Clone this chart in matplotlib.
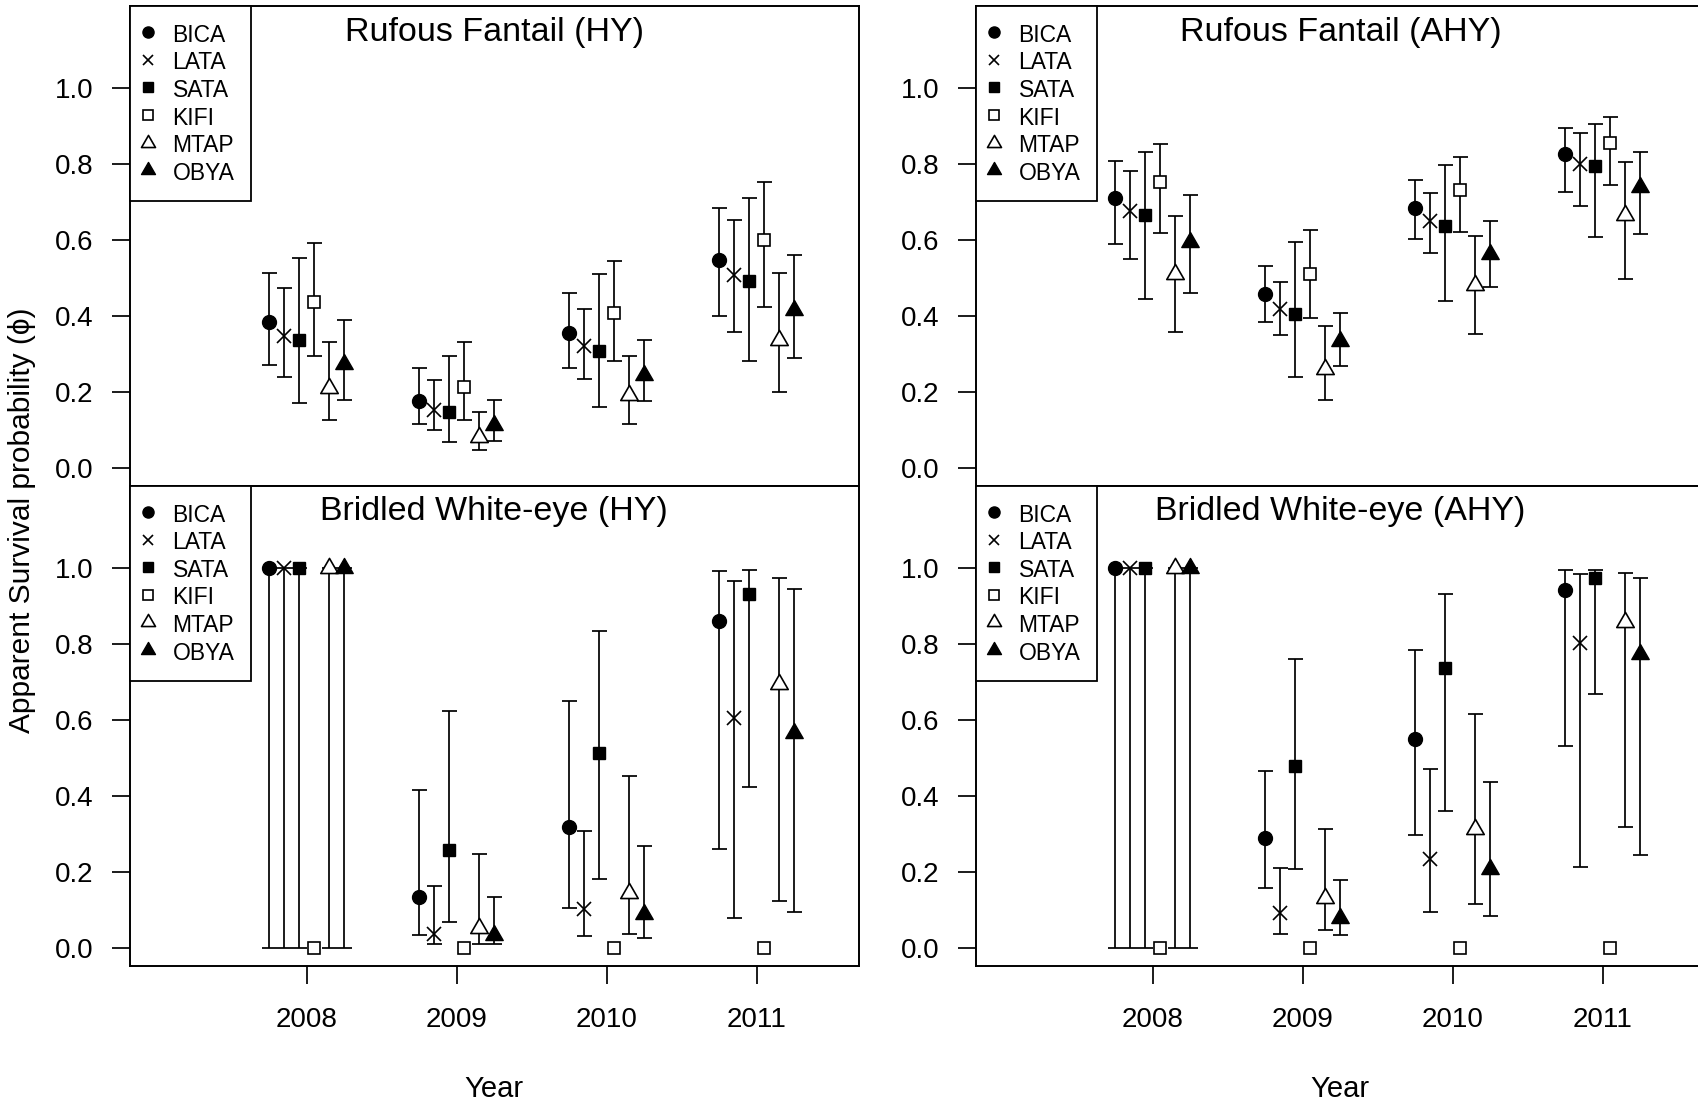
import matplotlib
matplotlib.use('Agg')
import matplotlib.pyplot as plt
from matplotlib.path import Path
import numpy as np

plt.rcParams['font.family'] = ['Liberation Sans', 'DejaVu Sans']

# ---------------- data ----------------
years = [2008, 2009, 2010, 2011]
species = ['BICA', 'LATA', 'SATA', 'KIFI', 'MTAP', 'OBYA']
offsets = [-0.25, -0.15, -0.05, 0.05, 0.15, 0.25]
titles = ['Rufous Fantail (HY)', 'Rufous Fantail (AHY)',
          'Bridled White-eye (HY)', 'Bridled White-eye (AHY)']
y_ticks = [0.0, 0.2, 0.4, 0.6, 0.8, 1.0]
y_tick_labels = ['0.0', '0.2', '0.4', '0.6', '0.8', '1.0']

# rows = species (BICA, LATA, SATA, KIFI, MTAP, OBYA), columns = years
rufa_hy_est = [[0.384, 0.175, 0.355, 0.548],
               [0.348, 0.152, 0.320, 0.507],
               [0.336, 0.147, 0.307, 0.493],
               [0.438, 0.212, 0.408, 0.601],
               [0.211, 0.082, 0.191, 0.336],
               [0.274, 0.112, 0.246, 0.417]]
rufa_hy_lo = [[0.270, 0.116, 0.264, 0.401],
              [0.239, 0.099, 0.234, 0.358],
              [0.170, 0.068, 0.160, 0.281],
              [0.294, 0.125, 0.281, 0.424],
              [0.125, 0.046, 0.117, 0.200],
              [0.180, 0.070, 0.175, 0.289]]
rufa_hy_hi = [[0.513, 0.262, 0.460, 0.685],
              [0.475, 0.232, 0.419, 0.654],
              [0.554, 0.296, 0.511, 0.710],
              [0.592, 0.332, 0.546, 0.754],
              [0.332, 0.148, 0.294, 0.513],
              [0.389, 0.179, 0.338, 0.561]]

rufa_ahy_est = [[0.711, 0.458, 0.684, 0.826],
                [0.677, 0.418, 0.649, 0.800],
                [0.665, 0.405, 0.636, 0.794],
                [0.754, 0.511, 0.731, 0.855],
                [0.510, 0.261, 0.481, 0.665],
                [0.594, 0.333, 0.563, 0.739]]
rufa_ahy_lo = [[0.589, 0.385, 0.603, 0.726],
               [0.551, 0.351, 0.566, 0.689],
               [0.446, 0.239, 0.439, 0.607],
               [0.618, 0.396, 0.621, 0.744],
               [0.358, 0.180, 0.354, 0.498],
               [0.460, 0.269, 0.476, 0.617]]
rufa_ahy_hi = [[0.809, 0.532, 0.759, 0.896],
               [0.783, 0.489, 0.725, 0.881],
               [0.832, 0.596, 0.798, 0.905],
               [0.853, 0.627, 0.818, 0.924],
               [0.664, 0.373, 0.611, 0.805],
               [0.718, 0.407, 0.651, 0.833]]

brwe_hy_est = [[1.0, 0.134, 0.317, 0.861],
               [1.0, 0.037, 0.101, 0.604],
               [1.0, 0.257, 0.512, 0.932],
               [0.0, 0.0, 0.0, 0.0],
               [1.0, 0.053, 0.145, 0.695],
               [1.0, 0.033, 0.090, 0.565]]
brwe_hy_lo = [[0.0, 0.033, 0.105, 0.261],
              [0.0, 0.009, 0.030, 0.079],
              [0.0, 0.068, 0.181, 0.424],
              [0.0, 0.0, 0.0, 0.0],
              [0.0, 0.011, 0.035, 0.123],
              [0.0, 0.009, 0.026, 0.093]]
brwe_hy_hi = [[1.0, 0.415, 0.650, 0.993],
              [1.0, 0.162, 0.308, 0.967],
              [1.0, 0.623, 0.833, 0.996],
              [0.0, 0.0, 0.0, 0.0],
              [1.0, 0.248, 0.453, 0.974],
              [1.0, 0.134, 0.267, 0.945]]

brwe_ahy_est = [[1.0, 0.288, 0.551, 0.943],
                [1.0, 0.091, 0.233, 0.802],
                [1.0, 0.478, 0.736, 0.973],
                [0.0, 0.0, 0.0, 0.0],
                [1.0, 0.132, 0.312, 0.858],
                [1.0, 0.077, 0.208, 0.774]]
brwe_ahy_lo = [[0.0, 0.158, 0.296, 0.532],
               [0.0, 0.037, 0.094, 0.213],
               [0.0, 0.208, 0.360, 0.668],
               [0.0, 0.0, 0.0, 0.0],
               [0.0, 0.048, 0.116, 0.318],
               [0.0, 0.034, 0.083, 0.245]]
brwe_ahy_hi = [[1.0, 0.465, 0.783, 0.996],
               [1.0, 0.210, 0.470, 0.983],
               [1.0, 0.761, 0.932, 0.996],
               [0.0, 0.0, 0.0, 0.0],
               [1.0, 0.314, 0.616, 0.988],
               [1.0, 0.178, 0.437, 0.975]]

panels = [(rufa_hy_est, rufa_hy_lo, rufa_hy_hi),
          (rufa_ahy_est, rufa_ahy_lo, rufa_ahy_hi),
          (brwe_hy_est, brwe_hy_lo, brwe_hy_hi),
          (brwe_ahy_est, brwe_ahy_lo, brwe_ahy_hi)]

# ---------------- styles ----------------
tri = Path([(0, 1), (-0.866, -0.5), (0.866, -0.5), (0, 1)], closed=True)
marker_styles = [
    dict(marker='o', ms=10, mfc='black', mec='black', mew=1.0),
    dict(marker='x', ms=9.5, mfc='black', mec='black', mew=1.2),
    dict(marker='s', ms=8.8, mfc='black', mec='black', mew=1.0),
    dict(marker='s', ms=8.8, mfc='white', mec='black', mew=1.2),
    dict(marker=tri, ms=14.5, mfc='white', mec='black', mew=1.2),
    dict(marker=tri, ms=14.5, mfc='black', mec='black', mew=1.0),
]

W, H = 1699, 1102
fig = plt.figure(figsize=(W / 100, H / 100), dpi=100)

ax_w = 728.7 / W
ax_h = 479.8 / H
lefts = [130 / W, 976 / W]
bottoms = [(H - 485.7) / H, (H - 965.5) / H]

axes = []
for r in range(2):
    for c in range(2):
        axes.append(fig.add_axes([lefts[c], bottoms[r], ax_w, ax_h]))

for i, ax in enumerate(axes):
    est, lo, hi = [np.array(a, dtype=float) for a in panels[i]]
    handles = []
    for s in range(len(species)):
        x = np.array(years, dtype=float) + offsets[s]
        m = hi[s] > lo[s]
        if m.any():
            ax.errorbar(x[m], est[s][m],
                        yerr=[est[s][m] - lo[s][m], hi[s][m] - est[s][m]],
                        fmt='none', ecolor='black', elinewidth=1.25,
                        capsize=5.4, capthick=1.25, zorder=2)
        ln, = ax.plot(x, est[s], linestyle='none', zorder=3,
                      label=species[s], **marker_styles[s])
        handles.append(ln)

    ax.set_xlim(2006.82, 2011.68)
    ax.set_ylim(-0.0468, 1.2168)
    ax.set_yticks(y_ticks)
    ax.set_yticklabels(y_tick_labels)
    ax.tick_params(axis='y', direction='out', length=12.7, width=1.25,
                   pad=13.7, labelsize=20)
    if i >= 2:
        ax.set_xticks(years)
        ax.set_xticklabels([str(y) for y in years])
        ax.tick_params(axis='x', direction='out', length=12.7, width=1.25,
                       pad=17.3, labelsize=20)
        ax.set_xlabel('Year', fontsize=21, labelpad=30)
    else:
        ax.set_xticks([])
    for sp in ax.spines.values():
        sp.set_linewidth(1.4)

    ax.text(0.5, 0.9277, titles[i], transform=ax.transAxes, ha='center',
            va='baseline', fontsize=24.5)

    leg = ax.legend(handles=handles, loc='upper left', bbox_to_anchor=(0, 1),
                    borderaxespad=0, fontsize=16.5, frameon=True, fancybox=False,
                    edgecolor='black', framealpha=1, borderpad=0.72,
                    labelspacing=0.14, handleheight=1.19, handlelength=0.1,
                    handletextpad=1.04, markerscale=0.8, numpoints=1)
    leg.get_frame().set_linewidth(1.3)

fig.text(22.5 / W, (H - 520) / H, 'Apparent Survival probability (ϕ)',
         rotation=90, ha='center', va='center', fontsize=21.5)

fig.savefig('out.png', dpi=100)
